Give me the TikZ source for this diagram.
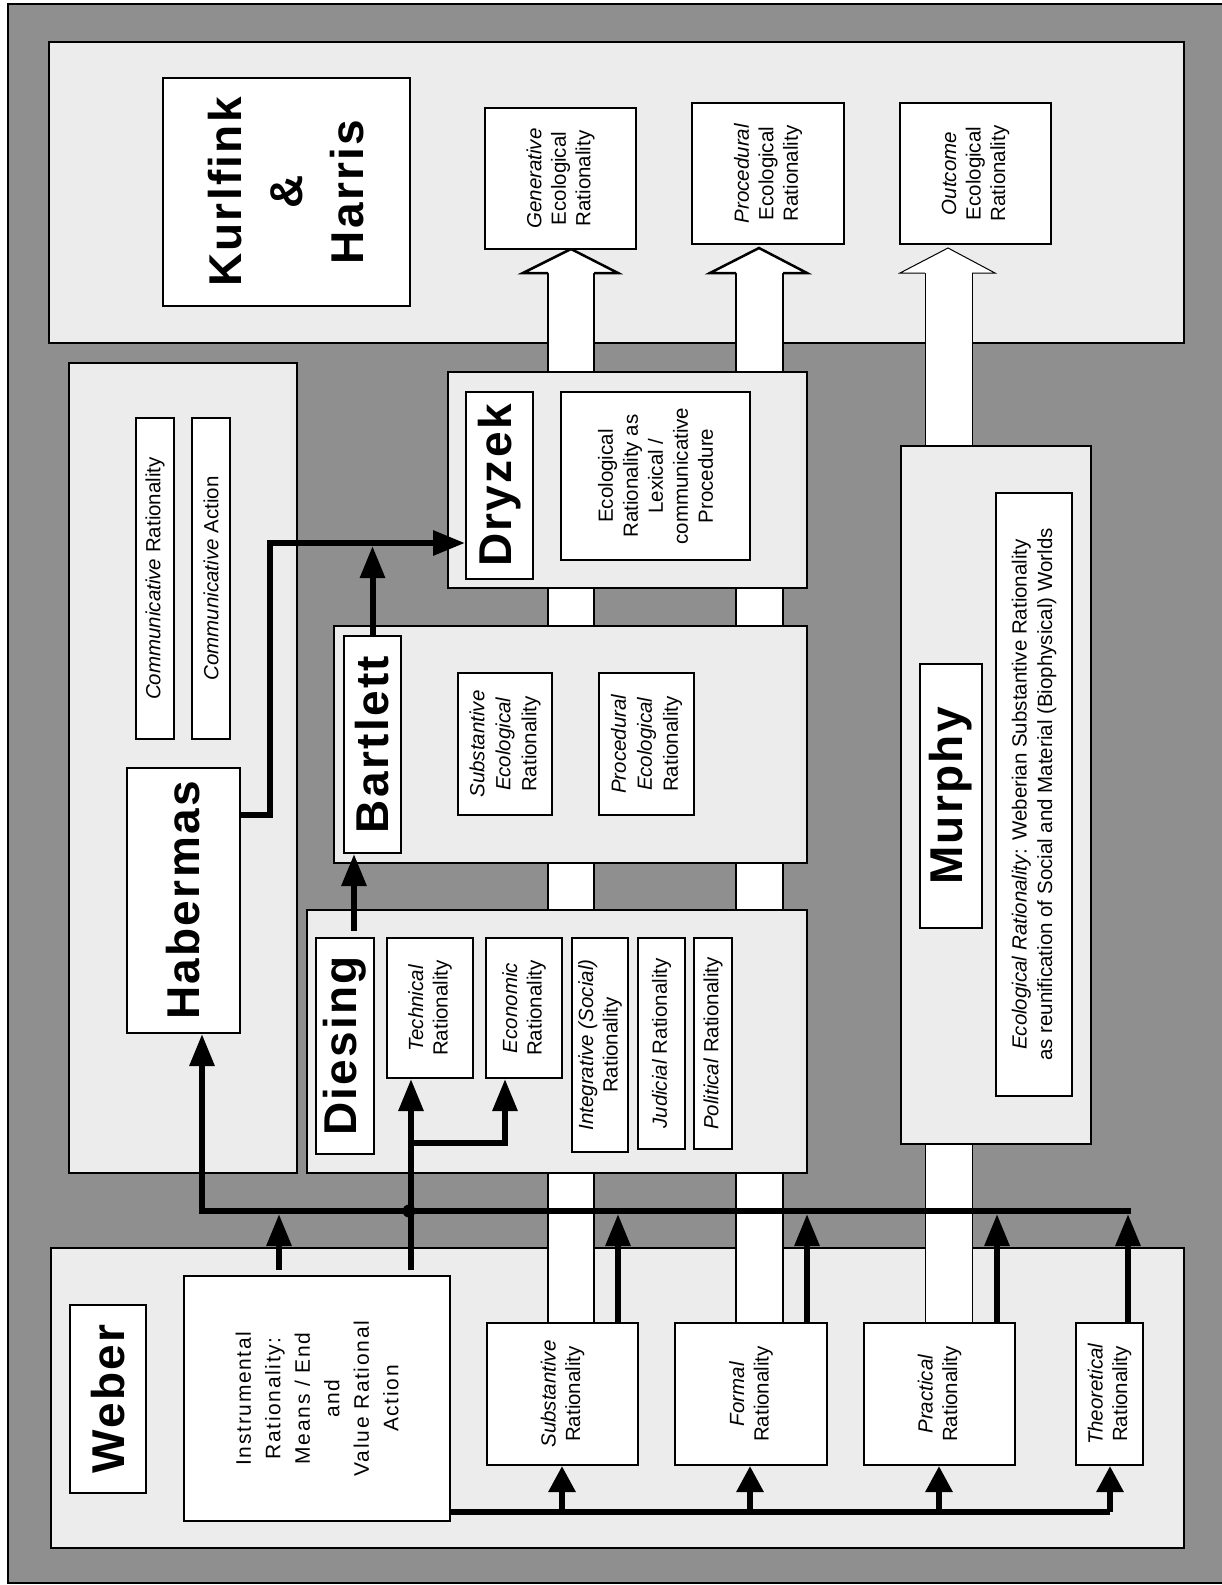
\documentclass[tikz,border=0pt]{standalone}
\usepackage{fontspec}
\setmainfont{Liberation Sans}
\newfontfamily\labelfont[LetterSpace=5]{Liberation Sans}
\newfontfamily\spreadfont[LetterSpace=8]{Liberation Sans}
\usetikzlibrary{arrows.meta}
\definecolor{framec}{gray}{0.56}
\definecolor{panelc}{gray}{0.925}
\tikzset{
  panel/.style={draw=black, line width=2pt, fill=panelc, inner sep=0pt},
  wbox/.style={draw=black, line width=2pt, fill=white, inner sep=0pt},
  conn/.style={line width=6pt, -{Triangle[length=32pt,width=24pt]}},
  sconn/.style={line width=6pt, -{Triangle[length=26pt,width=26pt]}},
  bus/.style={line width=6pt},
  rtxt/.style={rotate=90, align=center, inner sep=0pt, font=\fontsize{20.5}{24.5}\selectfont},
  btxt/.style={rotate=90, align=center, inner sep=0pt, font=\labelfont\bfseries\fontsize{46}{61}\selectfont},
  shaft/.style={line width=1.5pt},
}
\newcommand\rbox[6]{\node[#6, minimum width={#4-#2}, minimum height={#5-#3}] (#1) at ({(#2+#4)/2},{(#3+#5)/2}) {};}
\begin{document}
\begin{tikzpicture}[x=1pt,y=-1pt]
\useasboundingbox (0,0) rectangle (1221,1585);
\fill[white] (0,0) rectangle (1221,1585);
\draw[line width=2pt, fill=framec] (8,4) rectangle (1223,1583);
% lower panels
\rbox{weberp}{51}{1248}{1184}{1548}{panel}
\rbox{khp}{49}{42}{1184}{343}{panel}
\rbox{habp}{69}{363}{297}{1173}{panel}
% hollow arrows
\fill[white] (548,273) rectangle (594,1323);
\draw[shaft] (548,273) -- (548,1323) (594,273) -- (594,1323);
\fill[white] (736,273) rectangle (783,1323);
\draw[shaft] (736,273) -- (736,1323) (783,273) -- (783,1323);
\fill[white] (925,273) rectangle (972,1323);
\draw[line width=1pt] (925,273) -- (925,1323) (972,273) -- (972,1323);
\draw[line width=2.5pt, fill=white] (548,273) -- (523,273) -- (571,249) -- (618,273) -- (594,273);
\draw[line width=2.5pt, fill=white] (736,273) -- (710,273) -- (759,248) -- (807,273) -- (783,273);
\draw[line width=1pt, fill=white] (925,273) -- (900,273) -- (948,248) -- (995,273) -- (972,273);
% upper panels
\rbox{dryp}{448}{372}{807}{588}{panel}
\rbox{bartp}{334}{626}{807}{863}{panel}
\rbox{diesp}{307}{910}{807}{1173}{panel}
\rbox{murp}{901}{446}{1091}{1144}{panel}
% boxes
\rbox{kh}{163}{78}{410}{306}{wbox}
\rbox{gen}{485}{108}{636}{249}{wbox}
\rbox{proc}{692}{103}{844}{244}{wbox}
\rbox{outc}{900}{103}{1051}{244}{wbox}
\rbox{comr}{136}{418}{174}{739}{wbox}
\rbox{coma}{192}{418}{230}{739}{wbox}
\rbox{hab}{127}{768}{240}{1033}{wbox}
\rbox{dry}{466}{392}{533}{579}{wbox}
\rbox{dryt}{561}{392}{750}{560}{wbox}
\rbox{bart}{344}{636}{401}{853}{wbox}
\rbox{sec}{458}{673}{552}{815}{wbox}
\rbox{pec}{599}{673}{694}{815}{wbox}
\rbox{dies}{316}{938}{374}{1154}{wbox}
\rbox{tech}{387}{938}{473}{1078}{wbox}
\rbox{econ}{486}{938}{562}{1078}{wbox}
\rbox{integ}{572}{938}{628}{1152}{wbox}
\rbox{jud}{638}{938}{685}{1149}{wbox}
\rbox{pol}{694}{938}{732}{1149}{wbox}
\rbox{mur}{920}{664}{982}{928}{wbox}
\rbox{murt}{996}{493}{1072}{1096}{wbox}
\rbox{web}{70}{1305}{146}{1493}{wbox}
\rbox{inst}{184}{1276}{450}{1521}{wbox}
\rbox{sub}{487}{1323}{638}{1465}{wbox}
\rbox{form}{675}{1323}{827}{1465}{wbox}
\rbox{prac}{864}{1323}{1015}{1465}{wbox}
\rbox{theo}{1076}{1323}{1143}{1465}{wbox}
% texts
\node[btxt] (kh-t) at (kh) {Kurlfink\\\&\\Harris};
\node[rtxt] (gen-t) at (gen) {\textit{Generative}\\Ecological\\Rationality};
\node[rtxt] (proc-t) at (proc) {\textit{Procedural}\\Ecological\\Rationality};
\node[rtxt] (outc-t) at (outc) {\textit{Outcome}\\Ecological\\Rationality};
\node[rtxt] (comr-t) at (comr) {\textit{Communicative} Rationality};
\node[rtxt] (coma-t) at (coma) {\textit{Communicative} Action};
\node[btxt] (hab-t) at (hab) {Habermas};
\node[btxt] (dry-t) at (dry) {Dryzek};
\node[rtxt, font=\fontsize{20.5}{25}\selectfont] (dryt-t) at (dryt) {Ecological\\Rationality as\\Lexical /\\communicative\\Procedure};
\node[btxt] (bart-t) at (bart) {Bartlett};
\node[rtxt, font=\fontsize{20.5}{26}\selectfont] (sec-t) at (sec) {\textit{Substantive}\\\textit{Ecological}\\Rationality};
\node[rtxt, font=\fontsize{20.5}{26}\selectfont] (pec-t) at (pec) {\textit{Procedural}\\\textit{Ecological}\\Rationality};
\node[btxt] (dies-t) at (dies) {Diesing};
\node[rtxt] (tech-t) at (tech) {\textit{Technical}\\Rationality};
\node[rtxt] (econ-t) at (econ) {\textit{Economic}\\Rationality};
\node[rtxt] (integ-t) at (integ) {\textit{Integrative (Social)}\\Rationality};
\node[rtxt] (jud-t) at (jud) {\textit{Judicial} Rationality};
\node[rtxt] (pol-t) at (pol) {\textit{Political} Rationality};
\node[btxt] (mur-t) at (mur) {Murphy};
\node[rtxt, font=\fontsize{20.5}{25.5}\selectfont] (murt-t) at (murt) {\textit{Ecological Rationality}: Weberian Substantive Rationality\\as reunification of Social and Material (Biophysical) Worlds};
\node[btxt] (web-t) at (web) {Weber};
\node[rtxt, font=\spreadfont\fontsize{21}{29.5}\selectfont] (inst-t) at (inst) {Instrumental\\Rationality:\\Means / End\\and\\Value Rational\\Action};
\node[rtxt] (sub-t) at (sub) {\textit{Substantive}\\Rationality};
\node[rtxt] (form-t) at (form) {\textit{Formal}\\Rationality};
\node[rtxt] (prac-t) at (prac) {\textit{Practical}\\Rationality};
\node[rtxt] (theo-t) at (theo) {\textit{Theoretical}\\Rationality};
% connectors
\coordinate (busL) at (202,1211);
\coordinate (busR) at (1131,1211);
\draw[conn] (hab.east |- 0,815) -- (270,815) -- (270,543) -- (dry.west |- 0,543);
\draw[conn] (bart.north) -- (bart.north |- 0,546);
\draw[conn] ([xshift=9pt,yshift=6pt]dies.north) -- ([xshift=-18.5pt]bart.south);
\draw[conn] (busR) -- (busL) -- (hab.south -| busL);
\draw[conn] ([yshift=5pt]inst.north -| 279,0) -- (279,1214);
\draw[conn] ([yshift=5pt]inst.north -| 411,0) -- (tech.south -| 411,0);
\draw[conn] (411,1143) -- (505,1143) -- (econ.south -| 505,0);
\fill (409,1211) circle[radius=6.5pt];
\draw[conn] (sub.north -| 618,0) -- (618,1214);
\draw[conn] (form.north -| 807,0) -- (807,1214);
\draw[conn] (prac.north -| 997,0) -- (997,1214);
\draw[conn] (theo.north -| 1128,0) -- (1128,1214);
\draw[bus] (inst.east |- 0,1512) -- (1110,1512);
\draw[sconn] (1110,1512) -- (theo.south -| 1110,0);
\draw[sconn] (562,1512) -- (sub.south -| 562,0);
\draw[sconn] (750,1512) -- (form.south -| 750,0);
\draw[sconn] (939,1512) -- (prac.south -| 939,0);
\end{tikzpicture}
\end{document}
